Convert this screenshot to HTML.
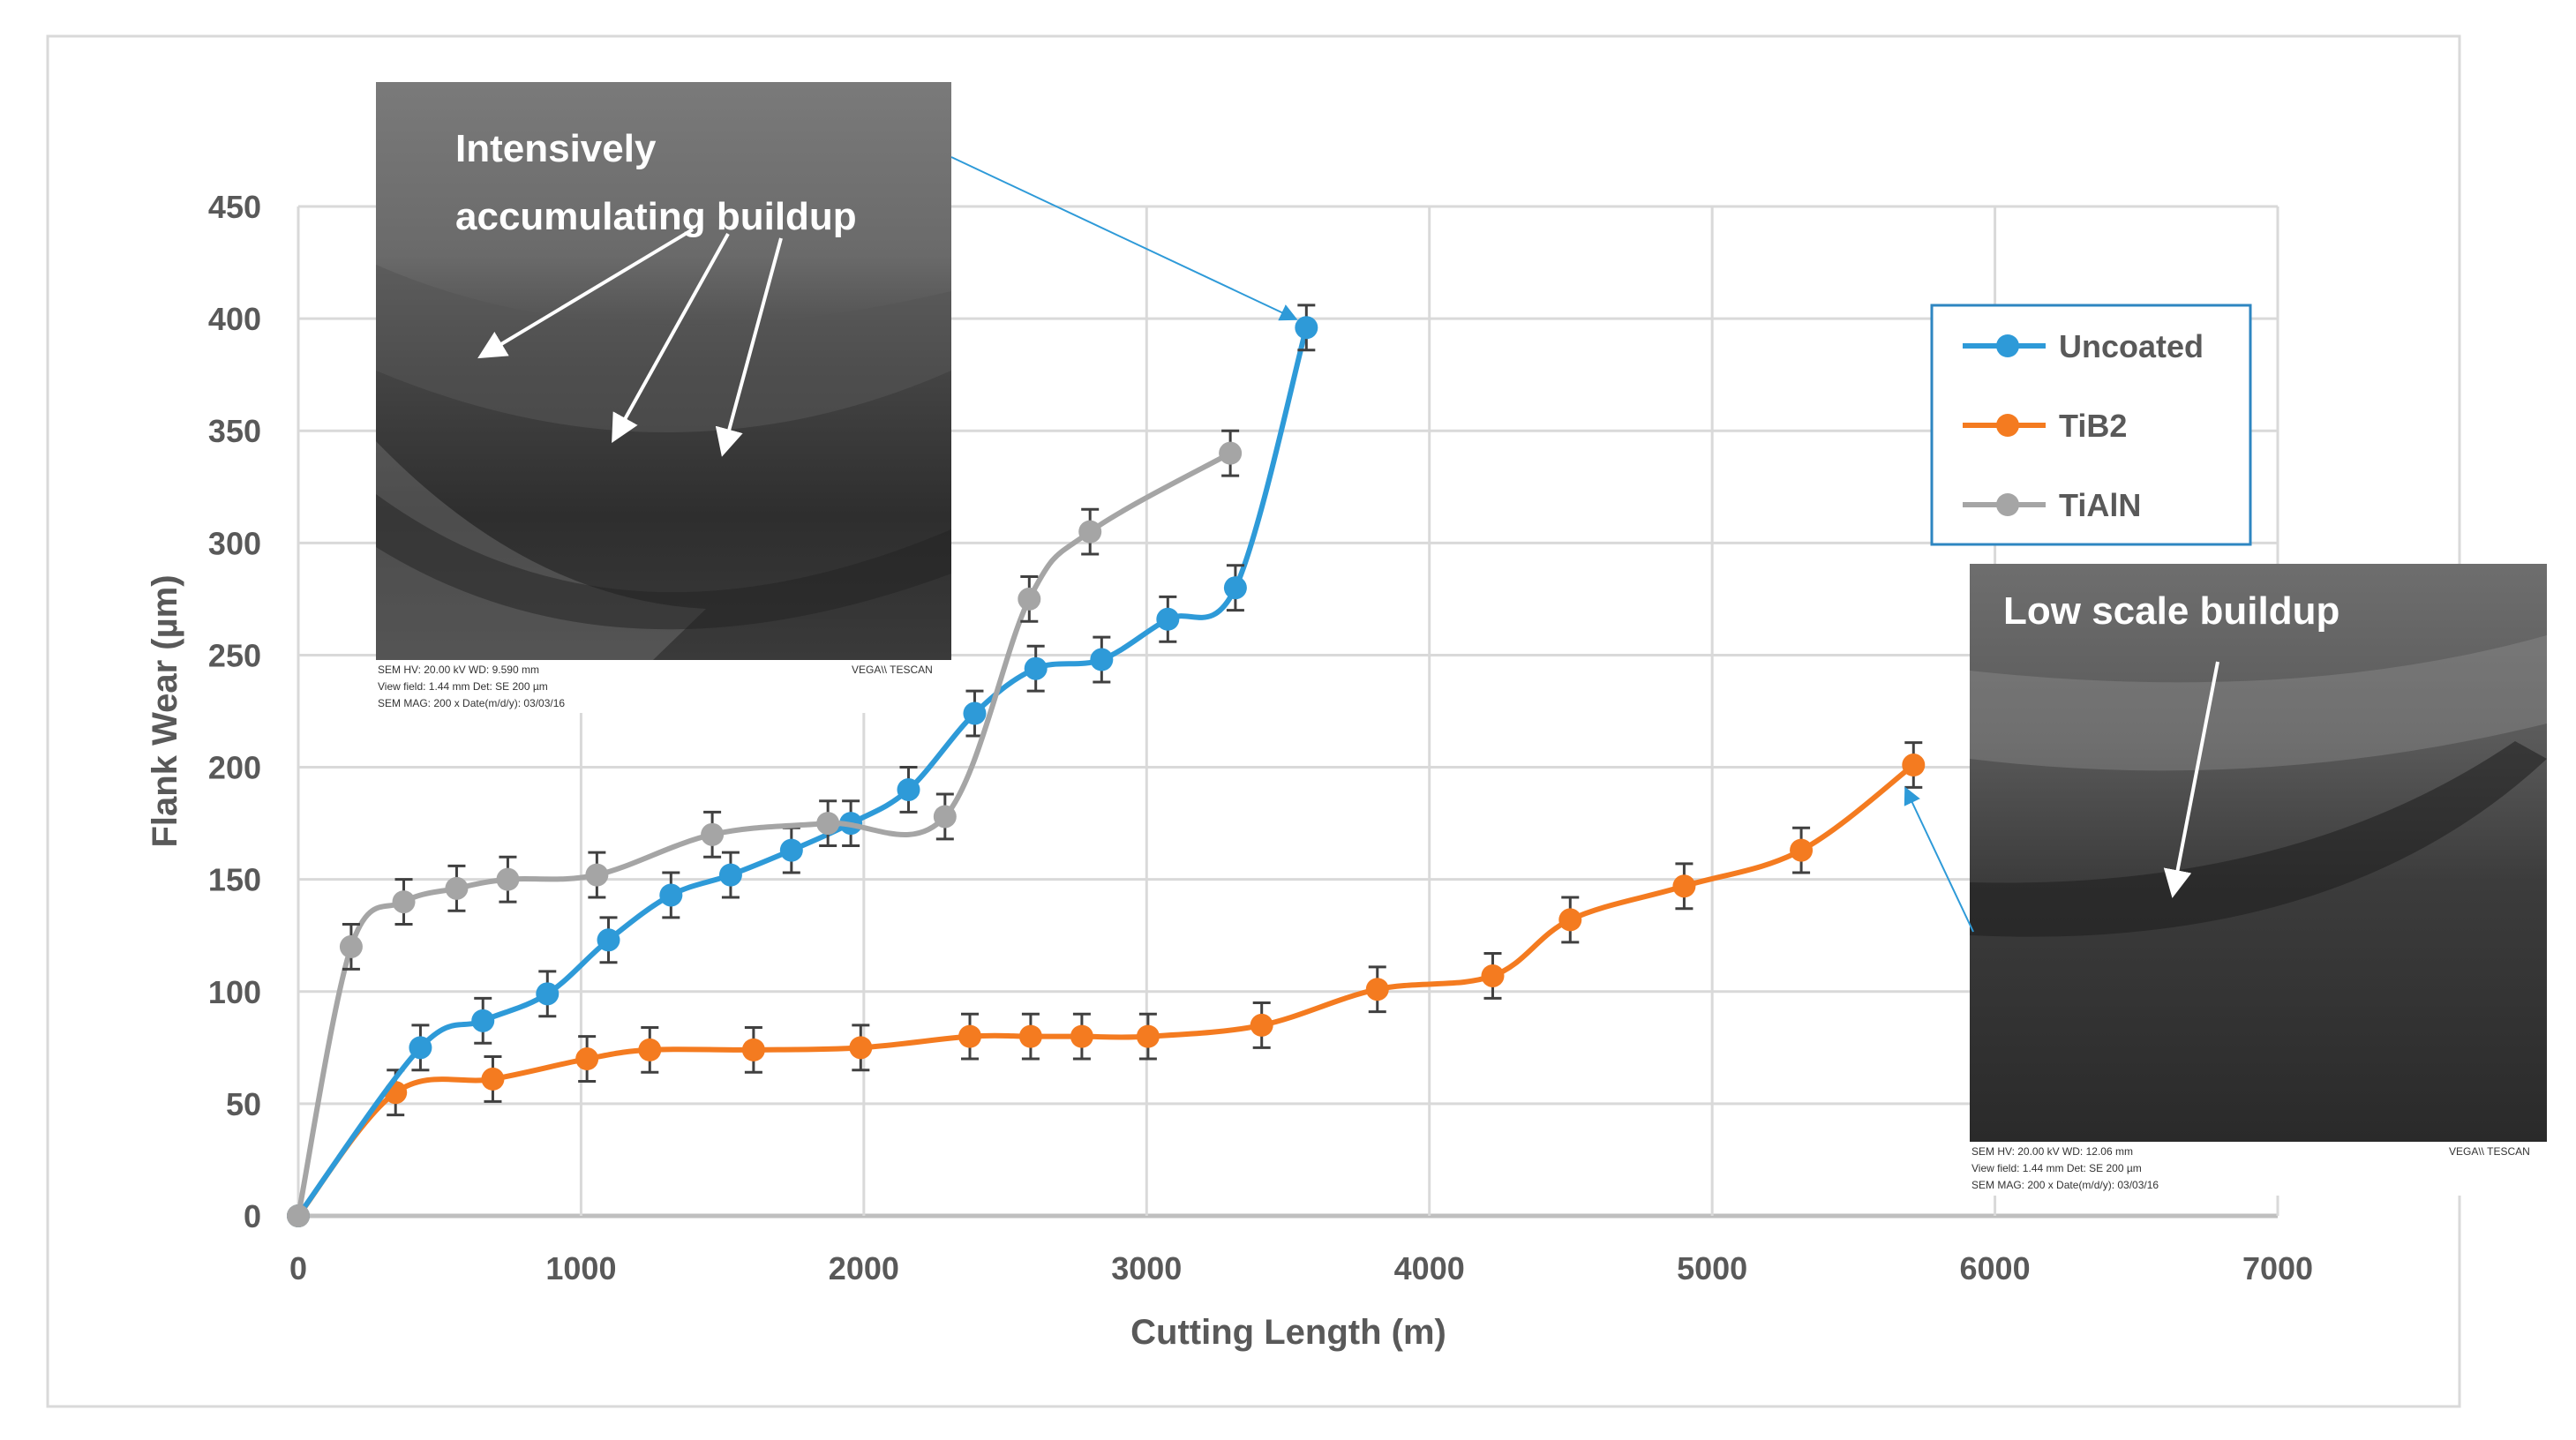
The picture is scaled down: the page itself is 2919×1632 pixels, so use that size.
<!DOCTYPE html>
<html><head><meta charset="utf-8"><style>
html,body{margin:0;padding:0;background:#fff;}
svg{display:block;font-family:"Liberation Sans",sans-serif;}
</style></head><body>
<svg id="chart" width="2919" height="1632" viewBox="0 0 2919 1632" xmlns="http://www.w3.org/2000/svg">
<defs>
<linearGradient id="sem1" x1="0" y1="0" x2="0" y2="1">
<stop offset="0" stop-color="#7a7a7a"/><stop offset="0.3" stop-color="#6a6a6a"/><stop offset="0.5" stop-color="#444"/><stop offset="0.75" stop-color="#2e2e2e"/><stop offset="1" stop-color="#3a3a3a"/></linearGradient>
<linearGradient id="sem2" x1="0" y1="0" x2="0" y2="1">
<stop offset="0" stop-color="#6e6e6e"/><stop offset="0.3" stop-color="#5a5a5a"/><stop offset="0.55" stop-color="#3c3c3c"/><stop offset="1" stop-color="#2a2a2a"/></linearGradient>
<marker id="arr" markerWidth="10" markerHeight="10" refX="8" refY="5" orient="auto"><path d="M0,0 L10,5 L0,10 z" fill="#2e9ad8"/></marker>
<marker id="warr" markerWidth="8" markerHeight="8" refX="6" refY="4" orient="auto"><path d="M0,0 L8,4 L0,8 z" fill="#fff"/></marker>
</defs>
<rect x="54" y="41" width="2733" height="1553" fill="#fff" stroke="#d9d9d9" stroke-width="3"/>
<g id="grid"></g>
<g id="axes"></g>
<g id="series"></g>
<!-- inset 1 -->
<g>
<rect x="426" y="93" width="652" height="655" fill="url(#sem1)"/>
<path d="M426,300 Q700,420 1078,330 L1078,420 Q760,560 426,420 z" fill="#555" opacity="0.6"/>
<path d="M426,500 Q600,680 800,690 L740,748 L426,748 z" fill="#888" opacity="0.35"/>
<path d="M426,560 Q700,760 1078,600 L1078,650 Q700,790 426,620 z" fill="#222" opacity="0.5"/>
<rect x="426" y="748" width="652" height="60" fill="#fff"/>
<text x="428" y="763" font-size="12" fill="#333">SEM HV: 20.00 kV     WD: 9.590 mm</text>
<text x="428" y="782" font-size="12" fill="#333">View field: 1.44 mm   Det: SE        200 µm</text>
<text x="428" y="801" font-size="12" fill="#333">SEM MAG: 200 x    Date(m/d/y): 03/03/16</text>
<text x="965" y="763" font-size="12" fill="#333">VEGA\\ TESCAN</text>
<text x="516" y="183" font-size="44" font-weight="bold" fill="#fff">Intensively</text>
<text x="516" y="260" font-size="44" font-weight="bold" fill="#fff">accumulating buildup</text>
<line x1="785" y1="260" x2="548" y2="402" stroke="#fff" stroke-width="4" marker-end="url(#warr)"/>
<line x1="825" y1="265" x2="697" y2="495" stroke="#fff" stroke-width="4" marker-end="url(#warr)"/>
<line x1="885" y1="270" x2="820" y2="510" stroke="#fff" stroke-width="4" marker-end="url(#warr)"/>
</g>
<line x1="1078" y1="178" x2="1467" y2="361" stroke="#2e9ad8" stroke-width="2" marker-end="url(#arr)"/>
<!-- inset 2 -->
<g>
<rect x="2232" y="639" width="654" height="655" fill="url(#sem2)"/>
<path d="M2232,760 Q2600,800 2886,720 L2886,820 Q2560,900 2232,860 z" fill="#999" opacity="0.35"/>
<path d="M2232,1000 Q2600,1010 2850,840 L2886,860 Q2650,1080 2232,1060 z" fill="#1e1e1e" opacity="0.55"/>
<rect x="2232" y="1294" width="654" height="61" fill="#fff"/>
<text x="2234" y="1309" font-size="12" fill="#333">SEM HV: 20.00 kV     WD: 12.06 mm</text>
<text x="2234" y="1328" font-size="12" fill="#333">View field: 1.44 mm   Det: SE        200 µm</text>
<text x="2234" y="1347" font-size="12" fill="#333">SEM MAG: 200 x    Date(m/d/y): 03/03/16</text>
<text x="2775" y="1309" font-size="12" fill="#333">VEGA\\ TESCAN</text>
<text x="2270" y="707" font-size="44" font-weight="bold" fill="#fff">Low scale buildup</text>
<line x1="2513" y1="750" x2="2463" y2="1010" stroke="#fff" stroke-width="4" marker-end="url(#warr)"/>
</g>
<line x1="2236" y1="1056" x2="2160" y2="895" stroke="#2e9ad8" stroke-width="2" marker-end="url(#arr)"/>
<!-- legend -->
<g>
<rect x="2189" y="346" width="361" height="271" fill="#fff" stroke="#2e86c1" stroke-width="3"/>
<g><line x1="2224" y1="392" x2="2318" y2="392" stroke="#2e9ad8" stroke-width="6"/><circle cx="2275" cy="392" r="13" fill="#2e9ad8"/><text x="2333" y="405" font-size="36" font-weight="bold" fill="#595959">Uncoated</text></g>
<g><line x1="2224" y1="482" x2="2318" y2="482" stroke="#f47b20" stroke-width="6"/><circle cx="2275" cy="482" r="13" fill="#f47b20"/><text x="2333" y="495" font-size="36" font-weight="bold" fill="#595959">TiB2</text></g>
<g><line x1="2224" y1="572" x2="2318" y2="572" stroke="#a5a5a5" stroke-width="6"/><circle cx="2275" cy="572" r="13" fill="#a5a5a5"/><text x="2333" y="585" font-size="36" font-weight="bold" fill="#595959">TiAlN</text></g>
</g>
<text transform="translate(200,806) rotate(-90)" text-anchor="middle" font-size="40" font-weight="bold" fill="#595959">Flank Wear (µm)</text>
<text x="1460" y="1523" text-anchor="middle" font-size="40" font-weight="bold" fill="#595959">Cutting Length (m)</text>
</svg>
<script>
const xTicks = [0,1000,2000,3000,4000,5000,6000,7000];
const yTicks = [0,50,100,150,200,250,300,350,400,450];
const uncoatedX = [0,432,653,881,1097,1318,1529,1744,1954,2158,2392,2608,2841,3075,3314,3565];
const uncoatedY = [0,75,87,99,123,143,152,163,175,190,224,244,248,266,280,396];
const tib2X = [0,344,688,1021,1243,1610,1989,2375,2590,2771,3005,3407,3816,4224,4498,4901,5315,5712];
const tib2Y = [0,55,61,70,74,74,75,80,80,80,80,85,101,107,132,147,163,201];
const tialnX = [0,187,373,560,741,1056,1464,1873,2287,2585,2800,3296];
const tialnY = [0,120,140,146,150,152,170,175,178,275,305,340];
const errorBar = 10;

const X0=338, X1=2581, Y0=1378, Y1=234;
function sx(v){return X0+(v-0)/(7000-0)*(X1-X0);}
function sy(v){return Y0-(v-0)/(450-0)*(Y0-Y1);}
const NS="http://www.w3.org/2000/svg";
function mk(tag,attrs,parent){const e=document.createElementNS(NS,tag);for(const k in attrs)e.setAttribute(k,attrs[k]);parent.appendChild(e);return e;}
const grid=document.getElementById('grid'), axes=document.getElementById('axes'), ser=document.getElementById('series');
yTicks.forEach(t=>{
  const l=mk('line',{x1:X0,x2:X1,y1:sy(t),y2:sy(t),stroke:t===0?'#bfbfbf':'#d9d9d9','stroke-width':t===0?5:3},grid);
  
  
  const tx=mk('text',{x:296,y:sy(t)+13,'text-anchor':'end','font-size':36,'font-weight':'bold',fill:'#595959'},axes);
  tx.textContent=t;
  
  
});
xTicks.forEach(t=>{
  const l=mk('line',{x1:sx(t),x2:sx(t),y1:Y1,y2:Y0,stroke:'#d9d9d9','stroke-width':3},grid);
  
  
  const tx=mk('text',{x:sx(t),y:1450,'text-anchor':'middle','font-size':36,'font-weight':'bold',fill:'#595959'},axes);
  tx.textContent=t;
  
  
});
function smooth(pts){
  let d='M'+pts[0][0]+','+pts[0][1];
  for(let i=0;i<pts.length-1;i++){
    const p0=pts[Math.max(0,i-1)],p1=pts[i],p2=pts[i+1],p3=pts[Math.min(pts.length-1,i+2)];
    const t=0.17;
    const c1=[p1[0]+(p2[0]-p0[0])*t,p1[1]+(p2[1]-p0[1])*t];
    const c2=[p2[0]-(p3[0]-p1[0])*t,p2[1]-(p3[1]-p1[1])*t];
    d+=' C'+c1[0]+','+c1[1]+' '+c2[0]+','+c2[1]+' '+p2[0]+','+p2[1];
  }
  return d;
}
function drawSeries(name,xs,ys,color){
  const g=mk('g',{},ser);
  
  
  const pts=xs.map((x,i)=>[sx(x),sy(ys[i])]);
  const p=mk('path',{d:smooth(pts),fill:'none',stroke:color,'stroke-width':6},g);
  
  
  xs.forEach((x,i)=>{
    const cx=sx(x);
    if(i>0){
      const eb=mk('path',{d:'M'+cx+','+sy(ys[i]-errorBar)+' V'+sy(ys[i]+errorBar)+' M'+(cx-10)+','+sy(ys[i]-errorBar)+' h20 M'+(cx-10)+','+sy(ys[i]+errorBar)+' h20',stroke:'#404040','stroke-width':3,fill:'none'},g);
      
      
    }
    const c=mk('circle',{cx:cx,cy:sy(ys[i]),r:13,fill:color},g);
    
    
  });
}
drawSeries('tib2',tib2X,tib2Y,'#f47b20');
drawSeries('uncoated',uncoatedX,uncoatedY,'#2e9ad8');
drawSeries('tialn',tialnX,tialnY,'#a5a5a5');
</script>
</body></html>
